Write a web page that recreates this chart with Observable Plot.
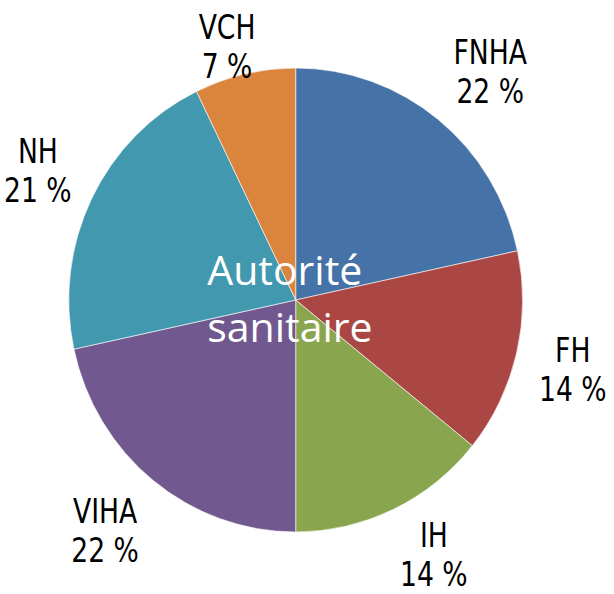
<!DOCTYPE html>
<html><head><meta charset="utf-8">
<script src="https://cdn.jsdelivr.net/npm/d3@7"></script>
<script src="https://cdn.jsdelivr.net/npm/@observablehq/plot@0.6"></script>
<style>body{margin:0;background:#fff}</style>
</head><body><div id="chart"></div>
<script>
// Data
const regions = ["FNHA", "FH", "IH", "VIHA", "NH", "VCH"];
const shares = [21.6, 14.2, 14.2, 21.6, 21.2, 7.2];
const colors = ["#4572A7", "#AA4643", "#89A54E", "#71588F", "#4198AF", "#DB843D"];
const centerTitle = "Autorité\nsanitaire";

// Layout
const W = 614, H = 594;
const CX = 295.7, CY = 300, RX = 227, RY = 232;
const labelFont = '"DejaVu Sans Condensed", sans-serif';
const labelSize = 34;
const squeeze = 0.87; // horizontal narrowing of label glyphs

const rows = regions.map((r, i) => ({region: r, share: shares[i]}));
const pie = d3.pie().sort(null).value(d => d.share)(rows);
const colorScale = Plot.scale({color: {type: "ordinal", domain: regions, range: colors}});

// measure label boxes
const ctx = document.createElement("canvas").getContext("2d");
ctx.font = `${labelSize}px ${labelFont}`;
const fx = t => Math.sign(t) * Math.min(1, Math.abs(t) * 2);
const fy = t => Math.sign(t) * Math.min(1, Math.abs(t) * 1.4);
const labels = pie.map(p => {
  const text = `${p.data.region}\n${Math.round(p.data.share)} %`;
  const w = squeeze * Math.max(...text.split("\n").map(s => ctx.measureText(s).width));
  const hw = w / 2 + 2, hh = labelSize * 0.95;
  const a = (p.startAngle + p.endAngle) / 2;
  const s = Math.sin(a), c = Math.cos(a);
  const r = 1.09;
  let px = CX + RX * r * s + fx(s) * hw;
  let py = CY - RY * r * c - fy(c) * hh;
  py = Math.max(hh + 13, Math.min(H - hh - 8, py));
  return {label: text, x: (px - CX) / RX, y: (CY - py) / RY};
});

function slices(index, scales) {
  const cx = scales.x(0), cy = scales.y(0);
  const sx = scales.x(1) - cx, sy = cy - scales.y(1);
  const g = d3.create("svg:g")
    .attr("transform", `translate(${cx},${cy}) scale(${sx},${sy})`);
  const arc = d3.arc().innerRadius(0).outerRadius(1);
  g.selectAll("path").data(pie).join("path")
    .attr("d", arc)
    .attr("fill", d => colorScale.apply(d.data.region))
    .attr("stroke", "#ffffff")
    .attr("stroke-width", 0.6)
    .attr("vector-effect", "non-scaling-stroke");
  return g.node();
}

const chart = Plot.plot({
  width: W, height: H,
  margin: 0,
  x: {domain: [-CX / RX, (W - CX) / RX], range: [0, W], axis: null},
  y: {domain: [-(H - CY) / RY, CY / RY], range: [H, 0], axis: null},
  style: {background: "#fff"},
  marks: [
    slices,
    Plot.text(labels, {
      x: "x", y: "y", text: "label",
      fontSize: labelSize, fontFamily: labelFont, lineHeight: 1.15,
      fill: "#000", textAnchor: "middle", lineAnchor: "middle"
    }),
    Plot.text([centerTitle], {
      x: 0, y: 0, dx: -89, dy: -5, text: d => d,
      fontSize: 41, fontFamily: '"Open Sans", sans-serif', lineHeight: 1.37,
      fill: "#fff", textAnchor: "start", lineAnchor: "middle"
    })
  ]
});
document.getElementById("chart").append(chart);
// narrow the outside labels horizontally (condensed look)
chart.querySelectorAll("text").forEach(el => {
  const g = el.closest("g");
  const ff = (g && g.getAttribute("font-family")) || el.getAttribute("font-family") || "";
  if (ff.includes("DejaVu")) {
    const t = el.getAttribute("transform");
    if (t) {
      el.setAttribute("transform", `${t} scale(${squeeze},1)`);
    } else {
      const x = +el.getAttribute("x") || 0, y = +el.getAttribute("y") || 0;
      el.setAttribute("transform", `translate(${x},${y}) scale(${squeeze},1) translate(${-x},${-y})`);
    }
  }
});
</script>
</body></html>
